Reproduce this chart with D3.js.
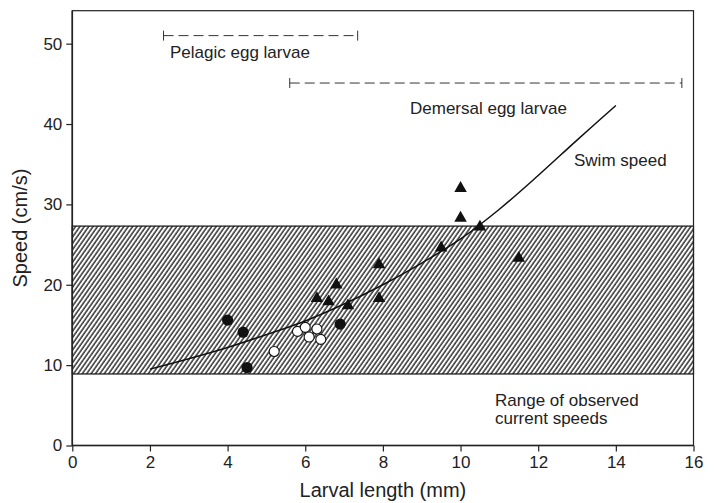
<!DOCTYPE html>
<html><head><meta charset="utf-8">
<script src="https://cdn.jsdelivr.net/npm/d3@7"></script>
<style>body{margin:0;background:#fff}svg{display:block}text{font-family:"Liberation Sans",Arial,sans-serif;fill:#222}</style>
</head><body><svg id="c" width="715" height="503"></svg>
<script>
const xTicks = [0,2,4,6,8,10,12,14,16];
const yTicks = [0,10,20,30,40,50];
const filledX = [4.0, 4.4, 4.5, 6.9];
const filledY = [15.6, 14.1, 9.7, 15.1];
const openX = [5.2, 5.8, 6.0, 6.1, 6.3, 6.4];
const openY = [11.7, 14.2, 14.7, 13.5, 14.5, 13.2];
const triX = [6.3, 6.6, 6.8, 7.1, 7.9, 7.9, 9.5, 10.0, 10.0, 10.5, 11.5];
const triY = [18.3, 17.9, 20.0, 17.4, 22.5, 18.3, 24.6, 32.0, 28.3, 27.2, 23.3];
const curveX = [2,3,4,5,6,7,8,9,10,11,12,13,14];
const curveY = [9.5, 10.8, 12.2, 13.8, 15.5, 17.6, 20.0, 22.7, 25.7, 29.4, 33.6, 38.0, 42.3];
const bandRange = [8.9, 27.3];
const ranges = [
  {name:"Pelagic egg larvae", x0:2.35, x1:7.35, y:51},
  {name:"Demersal egg larvae", x0:5.6, x1:15.7, y:45.1}
];
const xTitle = "Larval length (mm)", yTitle = "Speed (cm/s)";

const svg = d3.select("#c");
const L=72.3, R=693.5, T=10.7, B=445.5;
const x = d3.scaleLinear().domain([0,16]).range([L,R]);
const y = d3.scaleLinear().domain([0,54.1]).range([B,T]);

// hatch pattern
const defs = svg.append("defs");
const pat = defs.append("pattern").attr("id","hatch").attr("patternUnits","userSpaceOnUse")
  .attr("width",3.6).attr("height",8).attr("patternTransform","rotate(35)");
pat.append("rect").attr("width",3.6).attr("height",8).attr("fill","#fff");
pat.append("line").attr("x1",1).attr("x2",1).attr("y1",0).attr("y2",8).attr("stroke","#111").attr("stroke-width",1.3);

svg.append("rect").attr("x",L).attr("width",R-L).attr("y",y(bandRange[1])).attr("height",y(bandRange[0])-y(bandRange[1]))
  .attr("fill","url(#hatch)").attr("stroke","#111").attr("stroke-width",1.2);

// frame
svg.append("rect").attr("x",L).attr("y",T).attr("width",R-L).attr("height",B-T).attr("fill","none").attr("stroke","#222").attr("stroke-width",1.2);

// axes
const gx = svg.append("g").attr("transform",`translate(0,${B})`)
  .call(d3.axisBottom(x).tickValues(xTicks).tickSize(6).tickPadding(4).tickFormat(d3.format("d")));
const gy = svg.append("g").attr("transform",`translate(${L},0)`)
  .call(d3.axisLeft(y).tickValues(yTicks).tickSize(6).tickPadding(4).tickFormat(d3.format("d")));
[gx,gy].forEach(g=>{
  g.select(".domain").attr("stroke","#222").attr("stroke-width",1.6);
  g.selectAll(".tick line").attr("stroke","#222").attr("stroke-width",1.2);
  g.selectAll(".tick text").attr("font-size",17).attr("font-family","Liberation Sans, Arial, sans-serif").attr("fill","#222");
});
gx.select(".domain").attr("d",`M${L},0H${R}`);
gy.select(".domain").attr("d",`M0,${B}V${T}`);

// range lines
ranges.forEach(r=>{
  const g = svg.append("g").attr("stroke","#333").attr("stroke-width",1);
  g.append("line").attr("x1",x(r.x0)).attr("x2",x(r.x1)).attr("y1",y(r.y)).attr("y2",y(r.y)).attr("stroke-dasharray","10,5");
  [r.x0,r.x1].forEach(v=>g.append("line").attr("x1",x(v)).attr("x2",x(v)).attr("y1",y(r.y)-5).attr("y2",y(r.y)+5));
});

// curve
const cdata = curveX.map((v,i)=>[v,curveY[i]]);
svg.append("path").datum(cdata).attr("fill","none").attr("stroke","#111").attr("stroke-width",1.5)
  .attr("d", d3.line().x(d=>x(d[0])).y(d=>y(d[1])).curve(d3.curveCatmullRom));

// points
const tri = d3.symbol().type(d3.symbolTriangle).size(68);
svg.append("g").selectAll("path").data(triX.map((v,i)=>[v,triY[i]])).join("path")
  .attr("d",tri).attr("transform",d=>`translate(${x(d[0])},${y(d[1])})`).attr("fill","#111");
svg.append("g").selectAll("circle").data(filledX.map((v,i)=>[v,filledY[i]])).join("circle")
  .attr("cx",d=>x(d[0])).attr("cy",d=>y(d[1])).attr("r",5.6).attr("fill","#111");
svg.append("g").selectAll("circle").data(openX.map((v,i)=>[v,openY[i]])).join("circle")
  .attr("cx",d=>x(d[0])).attr("cy",d=>y(d[1])).attr("r",5).attr("fill","#fff").attr("stroke","#111").attr("stroke-width",1.1);

// annotations
const ann = (t,px,py)=>svg.append("text").attr("x",px).attr("y",py).attr("font-size",17).text(t);
ann(ranges[0].name, 170, 58);
ann(ranges[1].name, 410, 114);
ann("Swim speed", 574, 166);
ann("Range of observed", 495, 405.5);
ann("current speeds", 495, 424);

svg.append("text").attr("x",(L+R)/2).attr("y",497).attr("text-anchor","middle").attr("font-size",20).text(xTitle);
svg.append("text").attr("transform",`translate(27,${(T+B)/2}) rotate(-90)`).attr("text-anchor","middle").attr("font-size",20).text(yTitle);
</script></body></html>
